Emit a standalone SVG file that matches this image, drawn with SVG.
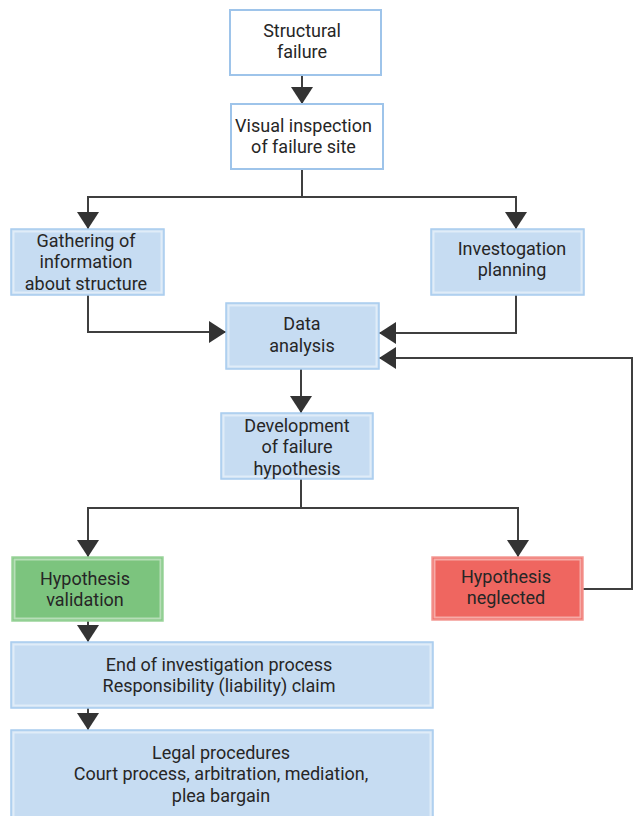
<svg xmlns="http://www.w3.org/2000/svg" width="636" height="816" viewBox="0 0 636 816">
<style>
.t{font-family:Roboto,"Liberation Sans",sans-serif;font-size:18px;fill:#262626;text-anchor:middle}
.w{fill:#ffffff;stroke:#9ec4ea;stroke-width:2}
.b{fill:#c6dcf2;stroke:#a8ccee;stroke-width:1.5}
.g{fill:#7cc47e;stroke:#9ad49b;stroke-width:1.5}
.r{fill:#ef6660;stroke:#f49a95;stroke-width:1.5}
.in{fill:none;stroke:#ffffff;stroke-opacity:0.45;stroke-width:2}
.c{fill:none;stroke:#3f3f3f;stroke-width:2}
</style>
<defs>
<marker id="ah" markerUnits="userSpaceOnUse" markerWidth="22" markerHeight="22" refX="17" refY="11" orient="auto" viewBox="0 0 17 22">
<path d="M0,0 L17,11 L0,22 Z" fill="#333333"/>
</marker>
</defs>
<g id="connectors">
<path class="c" d="M302,75 V104" marker-end="url(#ah)"/>
<path class="c" d="M302,169 V197 H88 V229" marker-end="url(#ah)"/>
<path class="c" d="M302,197 H516 V229" marker-end="url(#ah)"/>
<path class="c" d="M88,295 V332 H226" marker-end="url(#ah)"/>
<path class="c" d="M516,295 V333 H379" marker-end="url(#ah)"/>
<path class="c" d="M301,369 V413" marker-end="url(#ah)"/>
<path class="c" d="M301,479 V508 H88 V557" marker-end="url(#ah)"/>
<path class="c" d="M301,508 H518 V557" marker-end="url(#ah)"/>
<path class="c" d="M583,589 H632 V358 H379" marker-end="url(#ah)"/>
<path class="c" d="M88,620 V642" marker-end="url(#ah)"/>
<path class="c" d="M88,708 V730" marker-end="url(#ah)"/>
</g>
<g id="structural-failure">
<rect class="w" x="230" y="10" width="151" height="65"/>
<text class="t" x="302" y="37">Structural</text>
<text class="t" x="302" y="58">failure</text>
</g>
<g id="visual-inspection">
<rect class="w" x="231" y="104" width="152" height="65"/>
<text class="t" x="303.5" y="132">Visual inspection</text>
<text class="t" x="303.5" y="153">of failure site</text>
</g>
<g id="gathering">
<rect class="b" x="11" y="229" width="153" height="66"/>
<rect class="in" x="13.5" y="231.5" width="148" height="61"/>
<text class="t" x="86" y="247">Gathering of</text>
<text class="t" x="86" y="268">information</text>
<text class="t" x="86" y="290">about structure</text>
</g>
<g id="investigation-planning">
<rect class="b" x="431" y="229" width="153" height="66"/>
<rect class="in" x="433.5" y="231.5" width="148" height="61"/>
<text class="t" x="512" y="255">Investogation</text>
<text class="t" x="512" y="276">planning</text>
</g>
<g id="data-analysis">
<rect class="b" x="226" y="303" width="153" height="66"/>
<rect class="in" x="228.5" y="305.5" width="148" height="61"/>
<text class="t" x="302" y="330">Data</text>
<text class="t" x="302" y="352">analysis</text>
</g>
<g id="development">
<rect class="b" x="221" y="413" width="152" height="66"/>
<rect class="in" x="223.5" y="415.5" width="147" height="61"/>
<text class="t" x="297" y="432">Development</text>
<text class="t" x="297" y="453">of failure</text>
<text class="t" x="297" y="475">hypothesis</text>
</g>
<g id="hypothesis-validation">
<rect class="g" x="12" y="557" width="151" height="64"/>
<rect class="in" x="14.5" y="559.5" width="146" height="59"/>
<text class="t" x="85" y="585">Hypothesis</text>
<text class="t" x="85" y="606">validation</text>
</g>
<g id="hypothesis-neglected">
<rect class="r" x="432" y="557" width="151" height="63"/>
<rect class="in" x="434.5" y="559.5" width="146" height="58"/>
<text class="t" x="506" y="583">Hypothesis</text>
<text class="t" x="506" y="604">neglected</text>
</g>
<g id="end-of-investigation">
<rect class="b" x="11" y="642" width="422" height="66"/>
<rect class="in" x="13.5" y="644.5" width="417" height="61"/>
<text class="t" x="219" y="671">End of investigation process</text>
<text class="t" x="219" y="692">Responsibility (liability) claim</text>
</g>
<g id="legal-procedures">
<rect class="b" x="11" y="730" width="422" height="92"/>
<rect class="in" x="13.5" y="732.5" width="417" height="87"/>
<text class="t" x="221" y="759">Legal procedures</text>
<text class="t" x="221" y="780">Court process, arbitration, mediation,</text>
<text class="t" x="221" y="802">plea bargain</text>
</g>
</svg>
